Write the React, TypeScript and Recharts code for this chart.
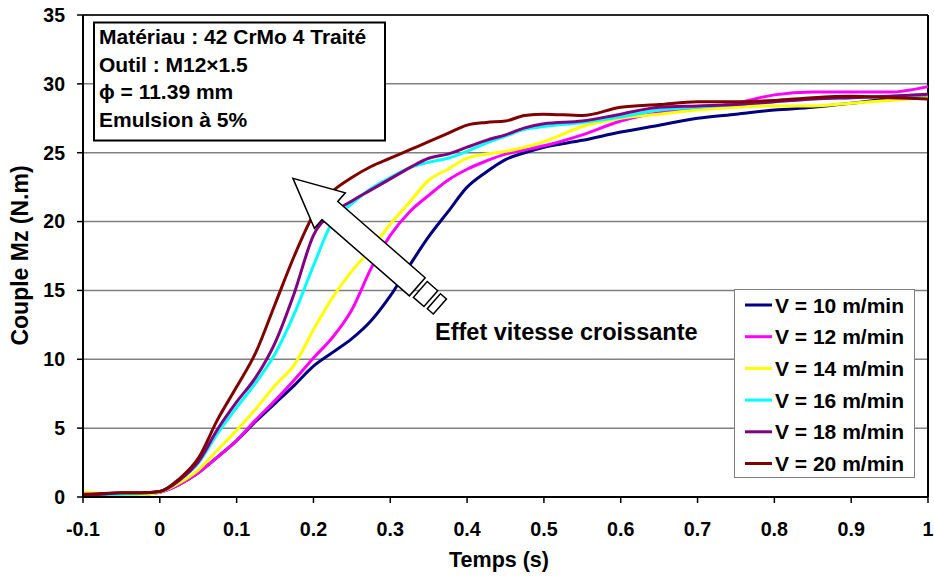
import React from 'react';
import {
  LineChart,
  Line,
  XAxis,
  YAxis,
  CartesianGrid,
  ReferenceLine,
} from 'recharts';

// Temps (s)
const time = [
  -0.1, -0.075, -0.05, -0.025, 0, 0.025, 0.05, 0.075, 0.1, 0.125, 0.15, 0.175, 0.2, 0.225, 0.25,
  0.275, 0.3, 0.325, 0.35, 0.375, 0.4, 0.425, 0.45, 0.475, 0.5, 0.55, 0.6, 0.65, 0.7, 0.75, 0.8,
  0.85, 0.9, 0.95, 1.0,
];

// Couple Mz (N.m) for each cutting speed
const v10 = [
  0.05, 0.1, 0.15, 0.2, 0.35, 0.9, 1.75, 2.9, 4.1, 5.5, 6.8, 8.1, 9.5, 10.5, 11.5, 12.8, 14.6, 16.8,
  18.9, 20.7, 22.5, 23.6, 24.5, 25.0, 25.4, 25.9, 26.5, 27.0, 27.5, 27.8, 28.1, 28.3, 28.6, 28.9, 29.0,
];
const v12 = [
  0.1, 0.1, 0.15, 0.2, 0.35, 0.9, 1.75, 2.9, 4.1, 5.6, 7.0, 8.5, 10.1, 11.6, 13.6, 16.6, 19.0, 20.7,
  21.9, 23.0, 23.8, 24.4, 24.9, 25.2, 25.5, 26.3, 27.3, 27.9, 28.2, 28.6, 29.2, 29.4, 29.4, 29.4, 29.8,
];
const v14 = [
  0.35, 0.25, 0.1, 0.15, 0.35, 1.0, 1.95, 3.4, 4.85, 6.4, 8.1, 9.6, 12.15, 14.5, 16.4, 18.0, 19.8, 21.4,
  23.0, 23.8, 24.6, 24.9, 25.1, 25.4, 25.8, 26.9, 27.5, 27.8, 28.1, 28.3, 28.4, 28.4, 28.6, 28.8, 29.0,
];
const v16 = [
  0.1, 0.15, 0.2, 0.25, 0.4, 1.2, 2.45, 4.6, 6.5, 8.3, 10.4, 13.3, 16.8, 20.0, 21.3, 22.4, 23.2, 23.9,
  24.3, 24.6, 25.1, 25.7, 26.2, 26.7, 26.9, 27.2, 27.6, 28.1, 28.3, 28.5, 28.7, 28.9, 29.0, 29.1, 29.2,
];
const v18 = [
  0.15, 0.2, 0.3, 0.3, 0.4, 1.2, 2.55, 4.9, 6.9, 8.7, 11.2, 14.8, 19.0, 20.6, 21.5, 22.3, 23.1, 23.9,
  24.6, 24.9, 25.4, 25.9, 26.3, 26.8, 27.1, 27.3, 27.8, 28.3, 28.4, 28.5, 28.7, 28.9, 29.0, 29.1, 29.25,
];
const v20 = [
  0.2, 0.25, 0.3, 0.3, 0.4, 1.3, 2.8, 5.6, 8.0, 10.5, 14.0, 17.5, 20.5, 22.2, 23.2, 24.0, 24.6, 25.2,
  25.8, 26.4, 27.0, 27.2, 27.3, 27.7, 27.8, 27.7, 28.3, 28.5, 28.7, 28.7, 28.8, 29.0, 29.1, 29.0, 28.9,
];

const seriesNames = [
  'V = 10 m/min',
  'V = 12 m/min',
  'V = 14 m/min',
  'V = 16 m/min',
  'V = 18 m/min',
  'V = 20 m/min',
];
const seriesColors = ['#000080', '#FF00FF', '#FFFF00', '#00FFFF', '#800080', '#800000'];
const seriesValues = [v10, v12, v14, v16, v18, v20];

const xTicks = [-0.1, 0, 0.1, 0.2, 0.3, 0.4, 0.5, 0.6, 0.7, 0.8, 0.9, 1];
const yTicks = [0, 5, 10, 15, 20, 25, 30, 35];

const infoLines = ['Matériau : 42 CrMo 4 Traité', 'Outil : M12×1.5', 'ϕ = 11.39 mm', 'Emulsion à 5%'];

const data = time.map((t, i) => {
  const row: Record<string, number> = { t };
  seriesValues.forEach((vals, k) => {
    row['s' + k] = vals[i];
  });
  return row;
});

const FONT = '"Liberation Sans", Arial, Helvetica, sans-serif';
const W = 934;
const H = 579;
const plot = { left: 83, right: 928, top: 15, bottom: 497 };

// data -> pixel, used for the annotation arrow only
const toPx = (t: number) => plot.left + ((t + 0.1) / 1.1) * (plot.right - plot.left);
const toPy = (v: number) => plot.bottom - (v / 35) * (plot.bottom - plot.top);

const fmtX = (t: number) => (t === 0 ? '0' : t === 1 ? '1' : t.toFixed(1));

// legend box, drawn over the grid in the lower right
const SeriesLegend = () => (
  <g>
    <rect x={734.5} y={289.5} width={180} height={188} fill="#fff" stroke="#808080" strokeWidth={1} />
    {seriesNames.map((name, k) => {
      const cy = 305 + k * 31.7;
      return (
        <g key={name}>
          <line x1={745} x2={772} y1={cy} y2={cy} stroke={seriesColors[k]} strokeWidth={3} />
          <text x={775} y={cy + 7.5} fontSize={21} fill="#000">
            {name}
          </text>
        </g>
      );
    })}
  </g>
);

// hollow arrow pointing toward the faster curves
const SpeedArrow = () => {
  const tipX = toPx(0.1733);
  const tipY = toPy(23.14);
  return (
    <g transform={`translate(${tipX},${tipY}) rotate(221.1)`} fill="#fff" stroke="#000" strokeWidth={1.5}>
      <polygon points="0,0 -49,-23.5 -49,-12 -165,-12 -165,12 -49,12 -49,23.5" />
      <rect x={-183} y={-10.5} width={14} height={21} />
      <rect x={-195} y={-10} width={8} height={20} />
    </g>
  );
};

export default function App() {
  return (
    <div style={{ position: 'absolute', left: 0, top: 0, width: W, height: H, background: '#fff' }}>
      <LineChart
        width={W}
        height={H}
        data={data}
        margin={{ top: plot.top, right: W - plot.right, left: 0, bottom: 0 }}
      >
        <CartesianGrid vertical={false} stroke="#808080" strokeWidth={1.5} />
        <XAxis
          dataKey="t"
          type="number"
          domain={[-0.1, 1]}
          ticks={xTicks}
          tickFormatter={fmtX}
          height={H - plot.bottom}
          tickSize={6}
          tickMargin={19}
          axisLine={{ stroke: '#000', strokeWidth: 2 }}
          tickLine={{ stroke: '#000', strokeWidth: 1.5 }}
          tick={{ fill: '#000', fontSize: 19.7, fontWeight: 'bold', fontFamily: FONT }}
          interval={0}
        />
        <YAxis
          type="number"
          domain={[0, 35]}
          ticks={yTicks}
          width={plot.left}
          tickSize={6}
          tickMargin={12}
          axisLine={{ stroke: '#000', strokeWidth: 2 }}
          tickLine={{ stroke: '#000', strokeWidth: 1.5 }}
          tick={{ fill: '#000', fontSize: 19.5, fontWeight: 'bold', fontFamily: FONT }}
          interval={0}
        />
        <ReferenceLine y={35} stroke="#000" strokeWidth={1.5} />
        <ReferenceLine x={1} stroke="#000" strokeWidth={2} />
        {seriesNames.map((name, k) => (
          <Line
            key={name}
            name={name}
            dataKey={'s' + k}
            type="monotone"
            stroke={seriesColors[k]}
            strokeWidth={3}
            dot={false}
            activeDot={false}
            isAnimationActive={false}
          />
        ))}
      </LineChart>

      <svg
        width={W}
        height={H}
        style={{ position: 'absolute', left: 0, top: 0, pointerEvents: 'none' }}
        fontFamily={FONT}
        fontWeight="bold"
      >
        <rect x={94} y={22.5} width={291} height={118} fill="#fff" stroke="#000" strokeWidth={2} />
        {infoLines.map((line, i) => (
          <text key={line} x={99} y={44.3 + i * 27.5} fontSize={21} fill="#000">
            {line}
          </text>
        ))}

        <SpeedArrow />
        <text x={435} y={340} fontSize={23.5} fill="#000">
          Effet vitesse croissante
        </text>

        <SeriesLegend />

        <text x={499} y={567} fontSize={21.5} textAnchor="middle" fill="#000">
          Temps (s)
        </text>
        <text transform="translate(28.3,255.5) rotate(-90)" fontSize={23} textAnchor="middle" fill="#000">
          Couple Mz (N.m)
        </text>
      </svg>
    </div>
  );
}
